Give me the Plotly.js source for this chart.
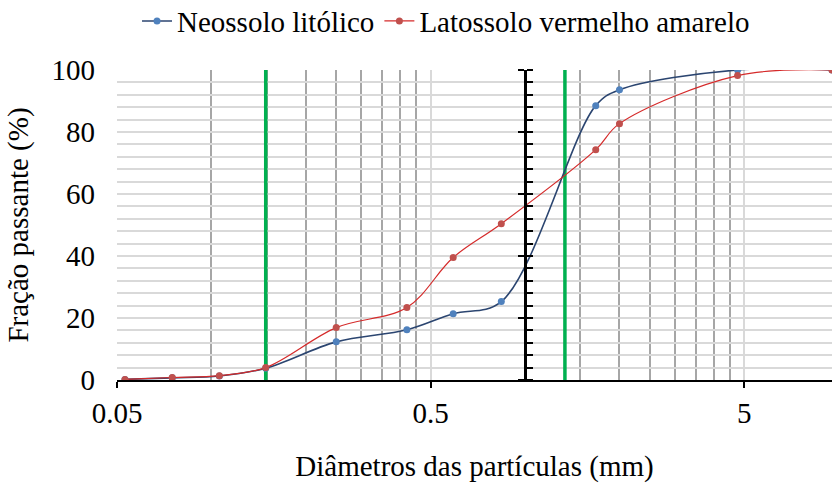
<!DOCTYPE html>
<html>
<head>
<meta charset="utf-8">
<script src="https://cdn.plot.ly/plotly-3.0.1.min.js"></script>
<style>
  html, body { margin: 0; padding: 0; background: #ffffff; font-family: 'Liberation Serif', serif; }
  #chart { width: 832px; height: 487px; }
</style>
</head>
<body>
<div id="chart"></div>
<script>
// Sieve openings (mm) and percent passing for each soil
const diameters = [0.053, 0.075, 0.106, 0.149, 0.25, 0.42, 0.59, 0.84, 1.68, 2.0, 4.76, 9.52];
const neossolo  = [0.2, 0.7, 1.3, 3.8, 12.3, 16.2, 21.4, 25.3, 88.5, 93.6, 100, 100];
const latossolo = [0.2, 0.8, 1.4, 4.0, 16.9, 23.4, 39.5, 50.4, 74.3, 82.7, 98.2, 100];

// Reference diameters marked with vertical green lines
const markerDiameters = [0.149, 1.34];

// Axis ticks
const xTickVals = [0.05, 0.5, 5];
const xTickText = ['0.05', '0.5', '5'];
const xMinorVals = [0.1, 0.15, 0.2, 0.25, 0.3, 0.35, 0.4, 0.45,
                    1, 1.5, 2, 2.5, 3, 3.5, 4, 4.5];
const yTickVals = [0, 20, 40, 60, 80, 100];
const xMin = 0.05, xMax = 9.52;
const axisCross = 1;   // vertical axis crosses the x axis at 1 mm

const FONT = 'Liberation Serif';
const FS = 29;
const logRange = [Math.log10(xMin), Math.log10(xMax)];
const crossPos = (Math.log10(axisCross) - logRange[0]) / (logRange[1] - logRange[0]);

const traces = [];
markerDiameters.forEach(d => {
  traces.push({
    x: [d, d], y: [0, 100], mode: 'lines', type: 'scatter',
    line: { color: '#00B050', width: 3.5 },
    showlegend: false, hoverinfo: 'skip'
  });
});
traces.push({
  name: 'Neossolo litólico', x: diameters, y: neossolo,
  type: 'scatter', mode: 'lines+markers',
  line: { color: '#2B4570', width: 1.6, shape: 'spline', smoothing: 1 },
  marker: { color: '#4F81BD', size: 7 }
});
traces.push({
  name: 'Latossolo vermelho amarelo', x: diameters, y: latossolo,
  type: 'scatter', mode: 'lines+markers',
  line: { color: '#D52A2A', width: 1.2, shape: 'spline', smoothing: 1 },
  marker: { color: '#C0504D', size: 7 }
});
// empty traces so the crossing axis (drawn by yaxis2/yaxis3) gets a subplot
['y2', 'y3'].forEach(ax => {
  traces.push({ x: [], y: [], yaxis: ax, type: 'scatter', mode: 'lines',
                showlegend: false, hoverinfo: 'skip' });
});

const layout = {
  width: 832, height: 487,
  margin: { l: 117, r: 0, t: 70, b: 107, autoexpand: false },
  paper_bgcolor: '#ffffff', plot_bgcolor: '#ffffff',
  font: { family: FONT, size: FS, color: '#000000' },
  showlegend: true,
  legend: {
    orientation: 'h', x: 0.028, xanchor: 'left', y: 1.24, yanchor: 'top',
    font: { family: FONT, size: FS, color: '#000000' },
    bgcolor: 'rgba(0,0,0,0)', itemclick: false
  },
  xaxis: {
    type: 'log', range: logRange, autorange: false,
    tickmode: 'array', tickvals: xTickVals, ticktext: xTickText,
    ticks: 'outside', ticklen: 6, tickwidth: 2, tickcolor: '#000000',
    showline: true, linecolor: '#000000', linewidth: 2,
    showgrid: true, gridcolor: '#d9d9d9', gridwidth: 2,
    minor: { tickmode: 'array', tickvals: xMinorVals, showgrid: true,
             gridcolor: '#a6a6a6', gridwidth: 2, ticks: '' },
    zeroline: false, automargin: false,
    tickfont: { family: FONT, size: FS, color: '#000000' },
    title: { text: 'Diâmetros das partículas (mm)', standoff: 28,
             font: { family: FONT, size: FS, color: '#000000' } }
  },
  yaxis: {
    range: [0, 100], autorange: false,
    tickmode: 'array', tickvals: yTickVals,
    ticks: '', ticklabelstandoff: 21,
    showline: false, zeroline: false,
    showgrid: true, gridcolor: '#d9d9d9', gridwidth: 2,
    minor: { dtick: 4, showgrid: true, gridcolor: '#d9d9d9', gridwidth: 2, ticks: '' },
    automargin: false,
    tickfont: { family: FONT, size: FS, color: '#000000' },
    title: { text: 'Fração passante (%)', standoff: 14,
             font: { family: FONT, size: FS, color: '#000000' } }
  },
  yaxis2: {
    overlaying: 'y', anchor: 'free', position: crossPos, side: 'left',
    range: [0, 100], autorange: false, dtick: 20,
    showline: true, linecolor: '#000000', linewidth: 2.5,
    ticks: 'outside', ticklen: 6, tickwidth: 2, tickcolor: '#000000',
    minor: { dtick: 4, ticks: 'inside', ticklen: 6, tickwidth: 2,
             tickcolor: '#000000', showgrid: false },
    showticklabels: false, showgrid: false, zeroline: false
  },
  yaxis3: {
    overlaying: 'y', anchor: 'free', position: crossPos, side: 'left',
    range: [0, 100], autorange: false, dtick: 20,
    showline: false,
    ticks: 'inside', ticklen: 6, tickwidth: 2, tickcolor: '#000000',
    showticklabels: false, showgrid: false, zeroline: false
  }
};

function draw() {
  Plotly.newPlot('chart', traces, layout, { staticPlot: true, displayModeBar: false });
}
if (document.fonts && document.fonts.load) {
  document.fonts.load(FS + 'px "Liberation Serif"').then(draw, draw);
} else {
  draw();
}
</script>
</body>
</html>
